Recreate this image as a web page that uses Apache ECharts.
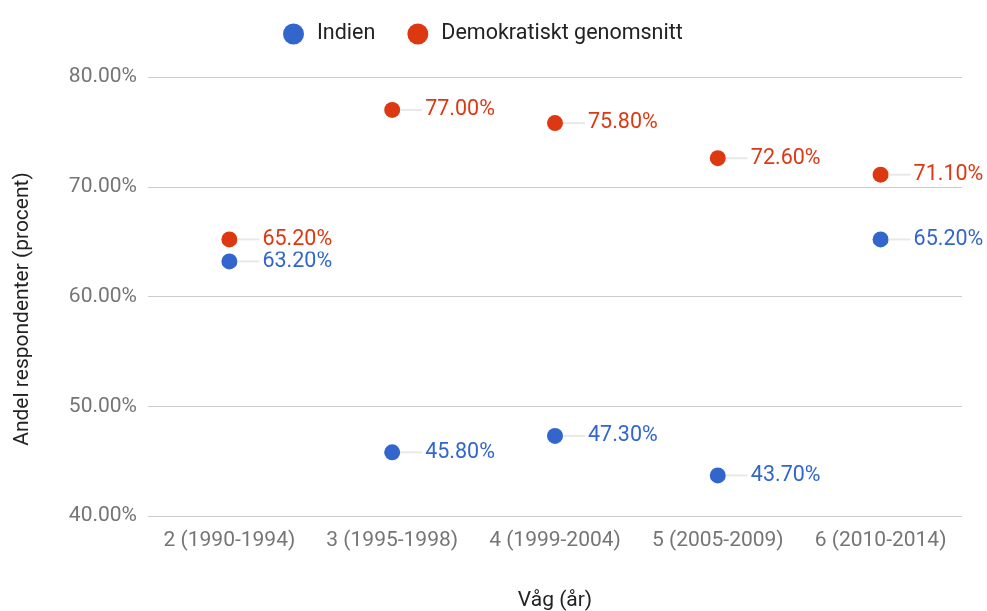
<!DOCTYPE html>
<html><head><meta charset="utf-8">
<script src="https://cdn.jsdelivr.net/npm/echarts@6/dist/echarts.min.js"></script>
<style>html,body{margin:0;padding:0;background:#fff}#c{width:987px;height:611px}</style>
</head><body><div id="c"></div>
<script>
const categories = ['2 (1990-1994)', '3 (1995-1998)', '4 (1999-2004)', '5 (2005-2009)', '6 (2010-2014)'];
const indien = [63.2, 45.8, 47.3, 43.7, 65.2];
const demokratiskt = [65.2, 77.0, 75.8, 72.6, 71.1];
const seriesNames = ['Indien', 'Demokratiskt genomsnitt'];
const colors = ['#3366cc', '#dc3912'];

const chart = echarts.init(document.getElementById('c'), null, {renderer: 'canvas'});
function mkLabel(color) {
  return {
    show: true, position: 'right', distance: 0, offset: [0, 0],
    formatter: p => '{l|}{v|' + p.value.toFixed(2) + '%}',
    rich: {
      l: {width: 22, height: 2, backgroundColor: '#e8e8e8'},
      v: {color: color, fontSize: 21.5, fontFamily: 'Roboto', backgroundColor: '#fff', padding: [1, 0, 1, 3], lineHeight: 25}
    }
  };
}
chart.setOption({
  animation: false,
  textStyle: {fontFamily: 'Roboto'},
  color: colors,
  legend: {
    top: 18, left: 278, itemGap: 32, itemWidth: 21, itemHeight: 21, icon: 'circle',
    textStyle: {fontSize: 21.5, color: '#222', fontFamily: 'Roboto', padding: [0, 0, 0, 8]},
    data: seriesNames
  },
  grid: {left: 148, right: 25, top: 77, bottom: 95, containLabel: false, outerBoundsMode: 'none'},
  xAxis: {
    type: 'category', data: categories, boundaryGap: true,
    axisLine: {show: false}, axisTick: {show: false},
    axisLabel: {color: '#757575', fontSize: 21, margin: 14, interval: 0},
    name: 'Våg (år)', nameLocation: 'middle', nameGap: 74,
    nameTextStyle: {color: '#222', fontSize: 21}
  },
  yAxis: {
    type: 'value', min: 40, max: 80, interval: 10,
    axisLine: {show: false}, axisTick: {show: false},
    axisLabel: {color: '#757575', fontSize: 21, margin: 11, formatter: v => v.toFixed(2) + '%'},
    splitLine: {lineStyle: {color: '#cccccc', width: 1}},
    name: 'Andel respondenter (procent)', nameLocation: 'middle', nameGap: 115, nameRotate: 90,
    nameTextStyle: {color: '#222', fontSize: 21, padding: [0, 25, 0, 0]}
  },
  series: [
    {name: seriesNames[0], type: 'scatter', data: indien, symbolSize: 16, itemStyle: {color: colors[0], opacity: 1}, label: mkLabel(colors[0]), z: 3},
    {name: seriesNames[1], type: 'scatter', data: demokratiskt, symbolSize: 16, itemStyle: {color: colors[1], opacity: 1}, label: mkLabel(colors[1]), z: 3}
  ]
});
</script></body></html>
